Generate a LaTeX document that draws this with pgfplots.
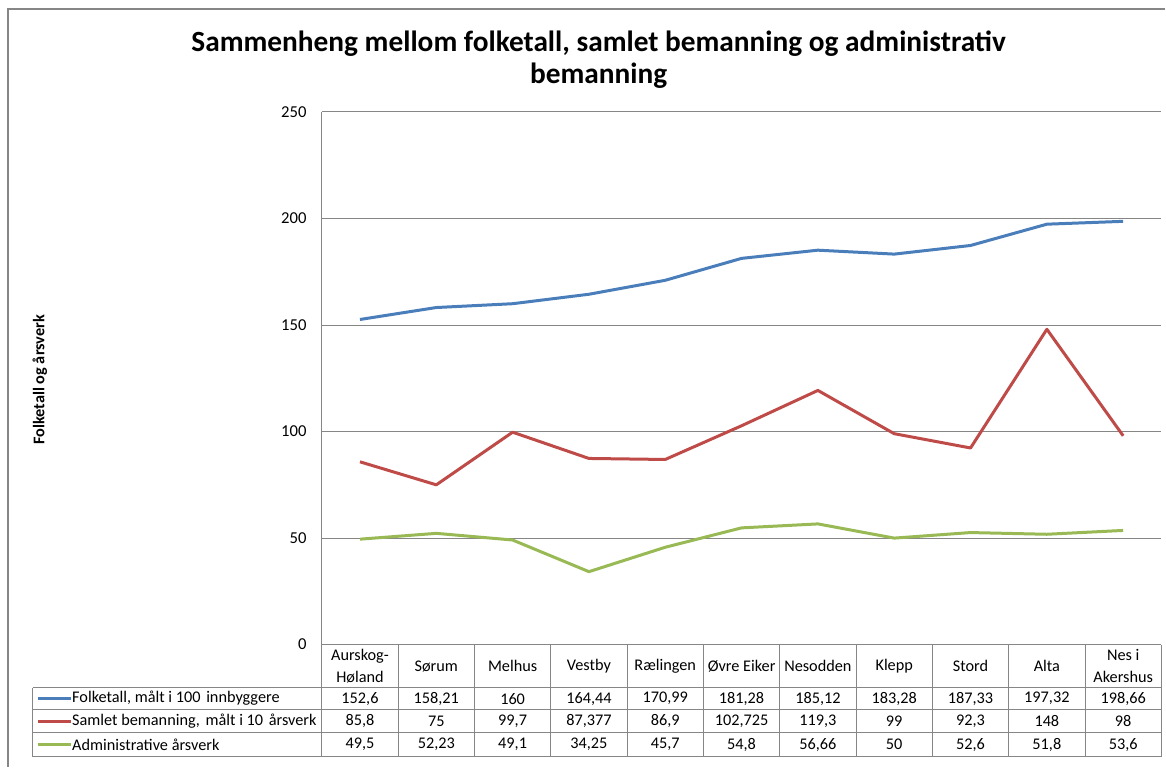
\documentclass[border=0pt]{standalone}
\usepackage{fontspec}
\setmainfont{Carlito}
\usepackage{pgfplots}
\pgfplotsset{compat=1.18}
\definecolor{cblue}{HTML}{4A7EBB}
\definecolor{cred}{HTML}{BE4B48}
\definecolor{cgreen}{HTML}{98B954}
\definecolor{gridc}{HTML}{868686}
\begin{document}
\begin{tikzpicture}
\path (0,0) rectangle (874.5pt,-575.25pt);
\begin{axis}[at={(241.5pt,-483.75pt)}, anchor=south west, scale only axis,
  width=630pt, height=399.75pt,
  xmin=-0.5, xmax=10.5, ymin=0, ymax=250,
  ytick={0,50,...,250}, xtick=\empty,
  axis x line=none, axis y line*=left,
  y axis line style={gridc, line width=0.75pt, -},
  major tick length=0pt,
  ymajorgrids, grid style={gridc, line width=0.75pt},
  /pgf/number format/assume math mode=true,
  yticklabel style={font=\fontsize{12.5}{14}\selectfont, xshift=-8pt},
  clip=false]
\addplot[cblue, line width=2.25pt, line join=round] coordinates {(0,152.6) (1,158.21) (2,160) (3,164.44) (4,170.99) (5,181.28) (6,185.12) (7,183.28) (8,187.33) (9,197.32) (10,198.66)};
\addplot[cred, line width=2.25pt, line join=round] coordinates {(0,85.8) (1,75) (2,99.7) (3,87.377) (4,86.9) (5,102.725) (6,119.3) (7,99) (8,92.3) (9,148) (10,98)};
\addplot[cgreen, line width=2.25pt, line join=round] coordinates {(0,49.5) (1,52.23) (2,49.1) (3,34.25) (4,45.7) (5,54.8) (6,56.66) (7,50) (8,52.6) (9,51.8) (10,53.6)};
\end{axis}
\begin{scope}[x=0.75pt, y=-0.75pt]
  % frame
  \draw[gridc, line width=1pt] (8,767) -- (8,9) -- (1166,9);
  % title
  \node[font=\fontsize{22}{24}\selectfont\bfseries, align=center] at (599,60) {Sammenheng mellom folketall, samlet bemanning og administrativ\\bemanning};
  % y label
  \node[font=\fontsize{12.2}{14}\selectfont\bfseries, rotate=90] at (40,380) {Folketall og årsverk};
  % table
  \begin{scope}[gridc, line width=0.75pt]
    \draw (322,645) -- (1162,645);
    \draw (33,688) -- (1162,688);
    \draw (33,710) -- (1162,710);
    \draw (33,733) -- (1162,733);
    \draw (33,757) -- (1162,757);
    \draw (33,688) -- (33,757);
    \foreach \i in {0,...,11} \draw (322+\i*76.3636,645) -- (322+\i*76.3636,757);
  \end{scope}
  \foreach \n [count=\i from 0] in {{Aurskog-\\Høland},Sørum,Melhus,Vestby,Rælingen,Øvre Eiker,Nesodden,Klepp,Stord,Alta,{Nes i\\Akershus}}
    \node[font=\fontsize{12.2}{17}\selectfont, align=center] at (360.18+76.3636*\i,666.5) {\n};
  \foreach \n [count=\i from 0] in {{152,6},{158,21},{160},{164,44},{170,99},{181,28},{185,12},{183,28},{187,33},{197,32},{198,66}}
    \node[font=\fontsize{12.2}{14}\selectfont] at (360.18+76.3636*\i,699) {\n};
  \foreach \n [count=\i from 0] in {{85,8},{75},{99,7},{87,377},{86,9},{102,725},{119,3},{99},{92,3},{148},{98}}
    \node[font=\fontsize{12.2}{14}\selectfont] at (360.18+76.3636*\i,721.5) {\n};
  \foreach \n [count=\i from 0] in {{49,5},{52,23},{49,1},{34,25},{45,7},{54,8},{56,66},{50},{52,6},{51,8},{53,6}}
    \node[font=\fontsize{12.2}{14}\selectfont] at (360.18+76.3636*\i,745) {\n};
  % legend keys
  \draw[cblue, line width=2.25pt] (38,699) -- (71,699);
  \draw[cred, line width=2.25pt] (38,721.5) -- (71,721.5);
  \draw[cgreen, line width=2.25pt] (38,745) -- (71,745);
  \node[font=\fontsize{12.2}{14}\selectfont, anchor=west, inner sep=0pt] at (72,699) {Folketall, målt i 100\hspace{1.5pt} innbyggere};
  \node[font=\fontsize{12.2}{14}\selectfont, anchor=west, inner sep=0pt] at (72,721.5) {Samlet bemanning,\hspace{1.5pt} målt i 10\hspace{1.5pt} årsverk};
  \node[font=\fontsize{12.2}{14}\selectfont, anchor=west, inner sep=0pt] at (72,745) {Administrative årsverk};
\end{scope}
\end{tikzpicture}
\end{document}
